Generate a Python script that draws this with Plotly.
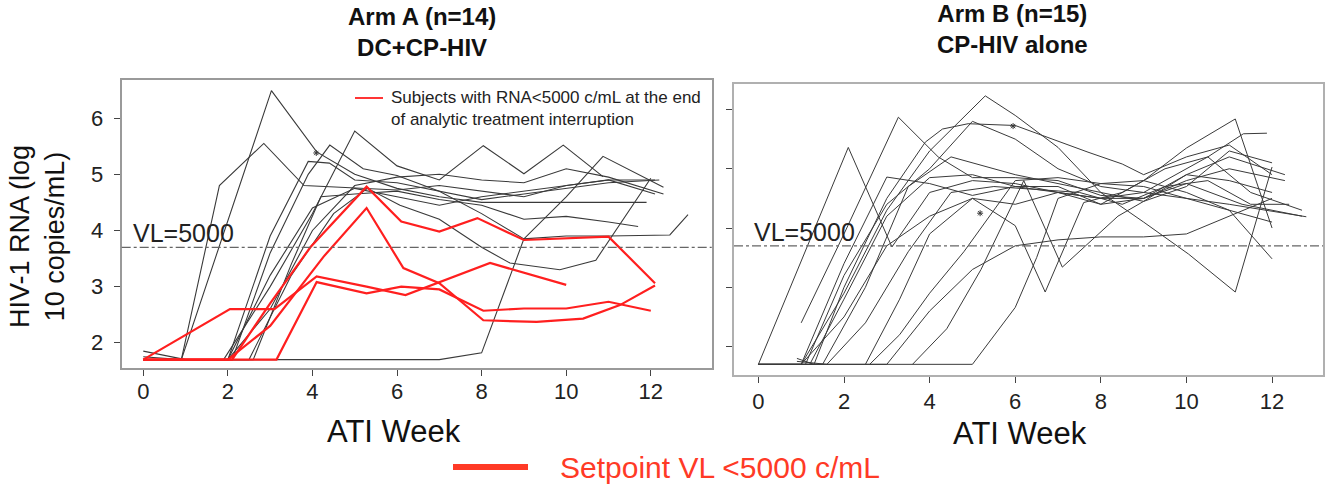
import math
import plotly.graph_objects as go

# ---------------- DATA ----------------
# Arm A: subjects with RNA<5000 c/mL at end of ATI (red)
arm_a_red_weeks = [
    [0, 1, 2.1, 3, 3.95, 5.28, 6.1, 7, 7.9, 9, 11, 12.1],
    [0, 1, 2, 3, 4.26, 5.28, 6.15, 7, 8.04, 9.3, 10.4, 11.27, 12.1],
    [0, 2.05, 3.1, 4.1, 5.28, 6.2, 8.2, 10],
    [0, 1, 2, 3.15, 4.1, 5.28, 6.1, 7, 8.04, 9, 10, 11, 12],
]
arm_a_red_vals = [
    [1.7, 1.7, 1.7, 2.7, 3.7, 4.78, 4.16, 3.98, 4.22, 3.83, 3.89, 3.06],
    [1.7, 1.7, 1.7, 2.3, 3.53, 4.40, 3.33, 3.06, 2.40, 2.37, 2.43, 2.67, 3.02],
    [1.7, 2.6, 2.6, 3.18, 3.0, 2.85, 3.42, 3.03],
    [1.7, 1.7, 1.7, 1.7, 3.08, 2.88, 3.0, 2.95, 2.57, 2.61, 2.61, 2.73, 2.57],
]
# Arm A: other subjects (black)
arm_a_weeks = [
    [0, 0.9, 3.03, 4.1, 5, 6, 7, 8, 9, 10, 11, 11.9],
    [0, 0.9, 1.8, 2.85, 3.8, 5, 6, 7, 8, 9, 10, 11, 12.1],
    [0, 1.9, 3, 4, 5, 6, 7, 8.04, 9, 9.93, 10.87],
    [0, 2.1, 3, 3.9, 4.41, 5.2, 6, 7, 8, 9, 10, 10.87, 12.3],
    [0, 2, 3, 3.9, 4.4, 5, 6, 7, 8, 9, 10, 11, 12.2],
    [0, 1, 2, 3, 4, 5, 6, 7, 8, 9, 10, 11, 12.45, 12.88],
    [0, 2.6, 3.5, 4.2, 5, 6, 7, 8, 9, 10, 11, 11.7],
    [0, 2.5, 3.5, 4.5, 5.3, 6.07, 7, 8, 8.67, 9.85, 10.7, 12.0],
    [0, 1, 2, 3, 4, 5, 6, 7, 8, 9, 10, 11, 12.1],
    [0, 2, 3, 4, 5, 6, 7, 8, 9, 10, 11, 12.3],
]
arm_a_vals = [
    [1.7, 1.7, 6.49, 5.4, 5.0, 4.75, 4.6, 4.5, 4.5, 4.5, 4.5, 4.5],
    [1.75, 1.7, 4.8, 5.55, 4.8, 4.75, 4.72, 4.8, 4.7, 4.6, 4.8, 4.9, 4.65],
    [1.7, 1.7, 3.0, 4.3, 5.77, 5.15, 4.9, 5.51, 5.01, 5.52, 4.96],
    [1.7, 1.7, 3.6, 5.0, 5.52, 5.1, 4.98, 4.7, 4.3, 3.85, 4.6, 5.32, 4.77],
    [1.7, 1.7, 3.9, 5.23, 5.2, 4.9, 4.85, 4.7, 4.55, 4.65, 4.75, 4.85, 4.9],
    [1.7, 1.7, 1.7, 1.7, 1.7, 1.7, 1.7, 1.7, 1.82, 3.85, 3.9, 3.9, 3.92, 4.28],
    [1.7, 1.7, 3.4, 4.6, 4.65, 4.7, 4.55, 4.45, 4.2, 4.25, 4.15, 4.07],
    [1.7, 1.7, 3.2, 4.3, 4.75, 4.45, 4.2, 3.7, 3.42, 3.30, 3.47, 4.93],
    [1.85, 1.7, 1.7, 3.2, 4.4, 4.75, 4.6, 4.45, 4.6, 4.7, 4.8, 4.9, 4.9],
    [1.7, 1.7, 2.6, 4.0, 4.8, 4.95, 5.0, 4.9, 4.85, 5.1, 4.95, 4.65],
]
arm_a_marks_w = [4.09]
arm_a_marks_v = [5.38]

# Arm B: all subjects (black)
arm_b_weeks = [
    [0, 2.1, 3.12, 4, 5, 6, 7, 8, 9, 10, 11, 12],
    [1.0, 2, 3.27, 4.2, 5, 6, 7, 8, 9, 10, 11, 12.3],
    [0, 1, 2, 3, 4, 5, 6, 7, 8, 9, 10, 11.3, 12.7],
    [0, 1, 2, 3, 4, 5.3, 6, 7, 8, 9, 10, 11, 12.3],
    [0.9, 1.3, 2, 3, 3.9, 4.3, 4.9, 6, 7.7, 8.5, 9, 10, 11, 12],
    [0, 1.2, 2, 3, 4, 5, 6, 7, 8, 9, 10, 11.14, 12],
    [0, 1.5, 2.5, 3.5, 4.5, 5, 6, 7, 8, 9, 10.05, 11.14, 12],
    [2.5, 3.3, 4, 5, 6, 6.7, 7.6, 8.5, 9.5, 10.5, 11.5, 12.7],
    [0, 3, 4, 5, 6, 7, 8, 9, 10, 11, 12],
    [0, 5, 6, 6.5, 7, 8, 9, 10, 11, 12],
    [3.6, 4.4, 5.2, 6.2, 7.1, 8.4, 9, 10, 11, 12],
    [2.6, 3.3, 4.0, 4.8, 5.5, 6.0, 7, 8, 9, 10, 11, 12],
    [1.0, 2, 3, 4, 5, 6, 7, 8, 9, 10, 10.5, 11.33, 11.88],
    [1.1, 2, 3, 4, 5, 6, 7, 8, 9, 10, 11, 12.8],
    [0.9, 1.6, 2.5, 3.5, 4.5, 5.5, 6.5, 7.5, 8.5, 9.5, 10.5, 11.5, 12.4],
]
arm_b_vals = [
    [1.7, 5.36, 3.68, 4.6, 4.8, 4.75, 4.6, 4.5, 4.5, 4.9, 4.8, 4.6],
    [2.4, 3.9, 5.87, 5.2, 4.85, 4.85, 4.8, 4.55, 4.5, 4.8, 5.0, 4.8],
    [1.7, 1.7, 3.4, 4.86, 4.75, 4.55, 4.7, 4.7, 4.4, 4.5, 4.75, 4.4, 4.2],
    [1.7, 1.7, 2.9, 4.3, 5.3, 6.23, 5.9, 5.36, 4.6, 4.45, 4.9, 5.2, 4.9],
    [1.8, 1.7, 3.0, 4.5, 5.45, 5.67, 5.76, 5.73, 5.28, 5.08, 4.9, 5.2, 5.4, 4.9],
    [1.7, 1.7, 2.8, 4.2, 4.85, 4.9, 4.7, 4.6, 4.4, 4.8, 5.35, 5.84, 4.0],
    [1.7, 1.7, 3.0, 4.7, 5.2, 5.1, 4.9, 4.75, 4.6, 4.1, 3.56, 2.92, 5.03],
    [1.7, 2.8, 3.9, 4.5, 4.04, 2.92, 4.43, 4.6, 5.0, 5.2, 4.6, 4.3],
    [1.7, 1.7, 2.6, 3.3, 3.7, 3.8, 3.85, 3.85, 3.9, 4.2, 4.5],
    [1.7, 1.7, 2.66, 3.5, 4.5, 4.75, 4.8, 4.6, 4.3, 4.1],
    [1.7, 2.3, 3.3, 4.8, 3.34, 4.2, 4.45, 4.7, 5.3, 5.1],
    [1.7, 2.2, 2.9, 3.6, 4.3, 4.8, 4.85, 4.75, 4.7, 4.5, 4.3, 3.48],
    [1.7, 2.5, 3.7, 4.2, 4.5, 4.4, 4.6, 4.5, 4.6, 5.0, 5.2, 5.59, 5.6],
    [1.7, 3.2, 4.4, 5.0, 5.8, 5.5, 5.0, 4.7, 4.6, 4.5, 4.4, 4.19],
    [1.75, 1.7, 2.4, 3.6, 4.6, 4.7, 4.65, 4.6, 4.4, 4.7, 4.8, 4.4, 4.4],
]
arm_b_marks_w = [5.18, 5.95]
arm_b_marks_v = [4.25, 5.72]

vl_threshold = math.log10(5000)
x_ticks = [0, 2, 4, 6, 8, 10, 12]
y_ticks = [2, 3, 4, 5, 6]

# ---------------- FIGURE ----------------
W, H = 1329, 487
FONT = "Liberation Sans, Arial, sans-serif"
RED = "#ff1f1f"
BLACK = "#3a3a3a"

fig = go.Figure()

for wk, vv in zip(arm_a_weeks, arm_a_vals):
    fig.add_trace(go.Scatter(x=wk, y=vv, mode="lines", xaxis="x", yaxis="y",
                             line=dict(color=BLACK, width=1.1), showlegend=False,
                             hoverinfo="skip"))
for wk, vv in zip(arm_a_red_weeks, arm_a_red_vals):
    fig.add_trace(go.Scatter(x=wk, y=vv, mode="lines", xaxis="x", yaxis="y",
                             line=dict(color=RED, width=2.2), showlegend=False,
                             hoverinfo="skip"))
fig.add_trace(go.Scatter(x=arm_a_marks_w, y=arm_a_marks_v, mode="markers",
                         xaxis="x", yaxis="y", showlegend=False, hoverinfo="skip",
                         marker=dict(symbol="asterisk", size=5, color=BLACK,
                                     line=dict(color=BLACK, width=1))))

for wk, vv in zip(arm_b_weeks, arm_b_vals):
    fig.add_trace(go.Scatter(x=wk, y=vv, mode="lines", xaxis="x2", yaxis="y2",
                             line=dict(color=BLACK, width=1.0), showlegend=False,
                             hoverinfo="skip"))
fig.add_trace(go.Scatter(x=arm_b_marks_w, y=arm_b_marks_v, mode="markers",
                         xaxis="x2", yaxis="y2", showlegend=False, hoverinfo="skip",
                         marker=dict(symbol="asterisk", size=5, color=BLACK,
                                     line=dict(color=BLACK, width=1))))

def px(x):
    return x / W

def py(y):
    return 1 - y / H

axis_common = dict(showgrid=False, zeroline=False, showline=True, mirror=True,
                   ticks="outside", ticklen=6, tickwidth=1, tickcolor="#444")

fig.update_layout(
    width=W, height=H,
    margin=dict(l=0, r=0, t=0, b=0),
    paper_bgcolor="white", plot_bgcolor="white",
    font=dict(family=FONT, color="#111"),
    xaxis=dict(axis_common, domain=[px(121.7), px(711.7)], range=[-0.51, 13.44],
               tickvals=x_ticks, linecolor="#9a9a9a", linewidth=2,
               ticklabelstandoff=-3,
               tickfont=dict(size=22, color="#222"), anchor="y"),
    yaxis=dict(axis_common, domain=[py(368), py(80)], range=[1.55, 6.68],
               tickvals=y_ticks, linecolor="#9a9a9a", linewidth=2,
               ticklabelstandoff=6,
               tickfont=dict(size=22, color="#222"), anchor="x"),
    xaxis2=dict(axis_common, domain=[px(734), px(1323)], range=[-0.57, 13.19],
                tickvals=x_ticks, linecolor="#b0b0b0", linewidth=1.5,
                ticklabelstandoff=0,
                tickfont=dict(size=22, color="#222"), anchor="y2"),
    yaxis2=dict(axis_common, domain=[py(375), py(84)], range=[1.52, 6.43],
                tickvals=y_ticks, showticklabels=False, linecolor="#b0b0b0",
                linewidth=1.5, anchor="x2"),
)

# VL=5000 reference lines
for xr, yr in (("x domain", "y"), ("x2 domain", "y2")):
    fig.add_shape(type="line", xref=xr, yref=yr, x0=0, x1=1,
                  y0=vl_threshold, y1=vl_threshold,
                  line=dict(color="#666", width=1.2, dash="dashdot"))

ann = []
ann.append(dict(text="VL=5000", xref="x", yref="y", x=-0.3, y=vl_threshold,
                xanchor="left", yanchor="bottom", yshift=-2, showarrow=False,
                font=dict(size=25, color="#222")))
ann.append(dict(text="VL=5000", xref="x2", yref="y2", x=-0.15, y=vl_threshold,
                xanchor="left", yanchor="bottom", yshift=-2, showarrow=False,
                font=dict(size=25, color="#222")))
# titles
ann.append(dict(text="<b>Arm A (n=14)</b><br><b>DC+CP-HIV</b>", xref="paper",
                yref="paper", x=px(422), y=py(1), xanchor="center", yanchor="top",
                showarrow=False, font=dict(size=24, color="#111")))
ann.append(dict(text="<b>Arm B (n=15)</b><br><b>CP-HIV alone</b>", xref="paper",
                yref="paper", x=px(1012), y=py(-2), xanchor="center", yanchor="top",
                showarrow=False, font=dict(size=24, color="#111")))
# axis titles
ann.append(dict(text="ATI Week", xref="paper", yref="paper", x=px(394), y=py(431),
                xanchor="center", yanchor="middle", showarrow=False,
                font=dict(size=31, color="#111")))
ann.append(dict(text="ATI Week", xref="paper", yref="paper", x=px(1020), y=py(433),
                xanchor="center", yanchor="middle", showarrow=False,
                font=dict(size=31, color="#111")))
ann.append(dict(text="HIV-1 RNA (log<br>10 copies/mL)", xref="paper", yref="paper",
                x=px(37), y=py(237), xanchor="center", yanchor="middle",
                textangle=-90, showarrow=False,
                font=dict(size=27, color="#111")))
# in-plot legend
ann.append(dict(text="Subjects with RNA&lt;5000 c/mL at the end<br>of analytic treatment interruption",
                xref="paper", yref="paper", x=px(389), y=py(86), xanchor="left",
                yanchor="top", align="left", showarrow=False,
                font=dict(size=17, color="#222")))
# bottom legend
ann.append(dict(text="Setpoint VL &lt;5000 c/mL", xref="paper", yref="paper",
                x=px(558), y=py(467), xanchor="left", yanchor="middle",
                showarrow=False, font=dict(size=30, color="#ff3a26")))
fig.update_layout(annotations=ann)

fig.add_shape(type="line", xref="paper", yref="paper", x0=px(355), x1=px(383),
              y0=py(98), y1=py(98), line=dict(color=RED, width=1.8))
fig.add_shape(type="line", xref="paper", yref="paper", x0=px(453), x1=px(528),
              y0=py(467), y1=py(467), line=dict(color="#ff3a26", width=6))

fig.write_html("out.html", config={"displayModeBar": False},
               post_script="document.body.style.margin='0';document.body.style.overflow='hidden';")
